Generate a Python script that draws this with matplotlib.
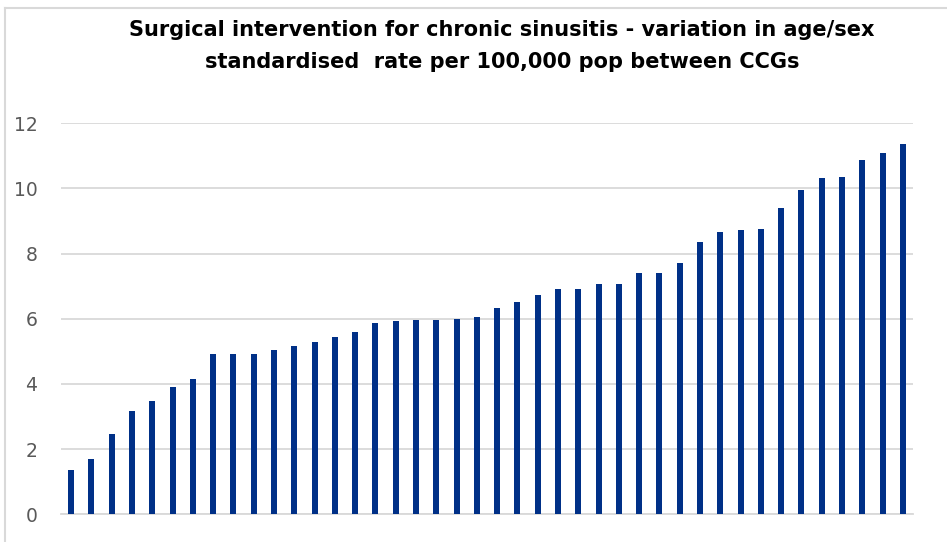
import matplotlib
matplotlib.use("Agg")
import matplotlib.pyplot as plt
from matplotlib.lines import Line2D

values = [1.36, 1.69, 2.47, 3.17, 3.49, 3.92, 4.15, 4.93, 4.93, 4.93,
          5.05, 5.18, 5.29, 5.44, 5.61, 5.88, 5.92, 5.95, 5.95, 5.99,
          6.04, 6.34, 6.51, 6.74, 6.90, 6.90, 7.06, 7.06, 7.40, 7.40,
          7.72, 8.35, 8.65, 8.71, 8.75, 9.41, 9.95, 10.31, 10.35, 10.86,
          11.10, 11.38]
categories = list(range(1, len(values) + 1))
yticks = [0, 2, 4, 6, 8, 10, 12]
title = ("Surgical intervention for chronic sinusitis - variation in age/sex\n"
         "standardised  rate per 100,000 pop between CCGs")

W, H = 947, 542
fig = plt.figure(figsize=(W / 100, H / 100), dpi=100)
ax = fig.add_axes([61 / W, 1 - 514.3 / H, (913 - 61) / W, (514.3 - 123.3) / H])

x = list(range(len(values)))
ax.bar(x, values, width=0.3, color="#003087", zorder=3)
ax.set_xlim(-0.5, len(values) - 0.5)
ax.set_ylim(0, 12)
ax.set_yticks(yticks)
ax.set_yticklabels([str(t) for t in yticks])
ax.set_xticks([])
ax.grid(axis="y", color="#D9D9D9", linewidth=1.3, zorder=0)
for s in ["left", "right", "top"]:
    ax.spines[s].set_visible(False)
ax.spines["bottom"].set_color("#D9D9D9")
ax.spines["bottom"].set_linewidth(1.3)
ax.tick_params(axis="y", length=0, pad=17, labelsize=13.5, labelcolor="#595959")

fig.text(502 / W, 1 - 46 / H, title, ha="center", va="center",
         fontsize=15, fontweight="bold", family="DejaVu Sans", color="#000000",
         linespacing=1.75)

# chart frame (top and left edges visible)
fig.add_artist(Line2D([5 / W, 1], [1 - 7.5 / H, 1 - 7.5 / H], transform=fig.transFigure,
                      color="#D9D9D9", linewidth=1.5))
fig.add_artist(Line2D([5 / W, 5 / W], [0, 1 - 7.5 / H], transform=fig.transFigure,
                      color="#D9D9D9", linewidth=1.5))

fig.savefig("out.png", dpi=100)
